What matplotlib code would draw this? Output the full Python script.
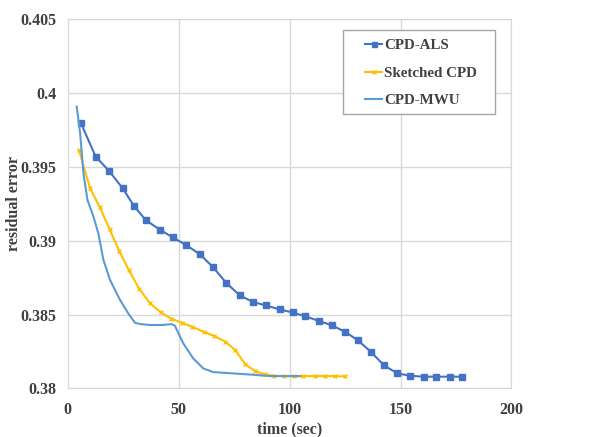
import matplotlib.pyplot as plt
from matplotlib.ticker import FuncFormatter
from matplotlib.patches import Rectangle

# CPD-ALS
als_t = [5.9, 12.6, 18.5, 24.8, 29.9, 35.3, 41.6, 47.3, 53.2, 59.6, 65.6, 71.5,
         77.6, 83.6, 89.5, 95.5, 101.4, 107.1, 113.2, 119.2, 125.2, 130.9,
         136.8, 142.6, 148.6, 154.5, 160.5, 166.2, 172.2, 177.9]
als_err = [0.39798, 0.3957, 0.39475, 0.39355, 0.39235, 0.39138, 0.39075, 0.39023,
           0.38973, 0.38908, 0.3882, 0.38714, 0.3863, 0.38585, 0.38562, 0.38535,
           0.38515, 0.38488, 0.38458, 0.38427, 0.38382, 0.38325, 0.38246, 0.38156,
           0.38102, 0.38086, 0.38080, 0.38080, 0.38080, 0.38080]

# Sketched CPD
sk_t = [5.1, 10.1, 14.4, 18.9, 23.3, 27.6, 32.3, 37.1, 42.0, 46.7, 51.4, 56.2,
        61.3, 66.1, 71.0, 75.5, 80.0, 84.5, 88.9, 93.1, 97.4, 101.8, 106.2,
        111.3, 115.9, 120.6, 125.2]
sk_err = [0.39612, 0.39355, 0.39229, 0.39077, 0.38928, 0.388, 0.38673, 0.38576,
          0.38515, 0.38472, 0.38445, 0.38418, 0.38384, 0.38355, 0.38318, 0.3826,
          0.38165, 0.38117, 0.38095, 0.38086, 0.38084, 0.38084, 0.38084, 0.38084,
          0.38084, 0.38084, 0.38082]

# CPD-MWU
mwu_t = [4.05, 5.6, 7.1, 8.9, 11.6, 13.8, 16.1, 19.1, 23.6, 27.3, 30.3, 32.6,
         37.1, 43.1, 46.8, 48.3, 52.1, 56.6, 61.1, 65.6, 74.6, 83.6, 91.1, 104.7]
mwu_err = [0.39908, 0.39728, 0.39457, 0.39276, 0.39163, 0.3905, 0.3887, 0.38734,
           0.38599, 0.38508, 0.38445, 0.38436, 0.3843, 0.3843, 0.38436, 0.38425,
           0.38305, 0.38203, 0.38136, 0.38111, 0.38102, 0.38093, 0.38084, 0.38084]

fig = plt.figure(figsize=(5.94, 4.37), dpi=100)
ax = fig.add_axes([0.114, 0.111, 0.747, 0.845])

ax.plot(als_t, als_err, color="#4472C4", lw=1.5, marker="s", ms=4.5, label="CPD-ALS")
ax.plot(sk_t, sk_err, color="#FFC000", lw=1.5, marker="x", ms=3.5, mew=1, label="Sketched CPD")
ax.plot(mwu_t, mwu_err, color="#5B9BD5", lw=1.5, label="CPD-MWU")

ax.set_xlim(0, 200)
ax.set_ylim(0.38, 0.405)
ax.set_xticks([0, 50, 100, 150, 200])
ax.set_yticks([0.38, 0.385, 0.39, 0.395, 0.4, 0.405])
ax.yaxis.set_major_formatter(FuncFormatter(lambda v, p: f"{v:g}"))

tick_font = dict(family="Liberation Serif", weight="bold", size=11.5)
label_font = dict(family="Liberation Serif", weight="bold", size=11.5)
ax.grid(True, color="#d9d9d9", lw=1)
ax.set_axisbelow(True)
for s in ax.spines.values():
    s.set_color("#d9d9d9")
ax.tick_params(axis="x", length=0, pad=10, labelcolor="#404040")
ax.tick_params(axis="y", length=0, pad=8, labelcolor="#404040")
for lab in ax.get_xticklabels() + ax.get_yticklabels():
    lab.set_fontproperties(tick_font)

ax.set_xlabel("time (sec)", fontdict=label_font, color="#404040", labelpad=2)
ax.set_ylabel("residual error", fontdict=label_font, color="#404040", labelpad=-1)

# legend without its own frame, plus a frame drawn in figure pixels
leg = ax.legend(loc="upper left", bbox_to_anchor=(365 / 594, 1 - 38.5 / 437),
                bbox_transform=fig.transFigure,
                prop=dict(family="Liberation Serif", weight="bold", size=10.8),
                frameon=False, handlelength=1.15, handletextpad=0.15,
                borderpad=0, labelspacing=0.95, borderaxespad=0, markerscale=0.8)
for t in leg.get_texts():
    t.set_color("#404040")
leg.set_zorder(6)
box = Rectangle((343 / 594, 1 - 114 / 437), 152 / 594, 84 / 437,
                transform=fig.transFigure, facecolor="white",
                edgecolor="#a6a6a6", lw=1, zorder=5, clip_on=False)
ax.add_artist(box)

fig.savefig("out.png", dpi=100)
